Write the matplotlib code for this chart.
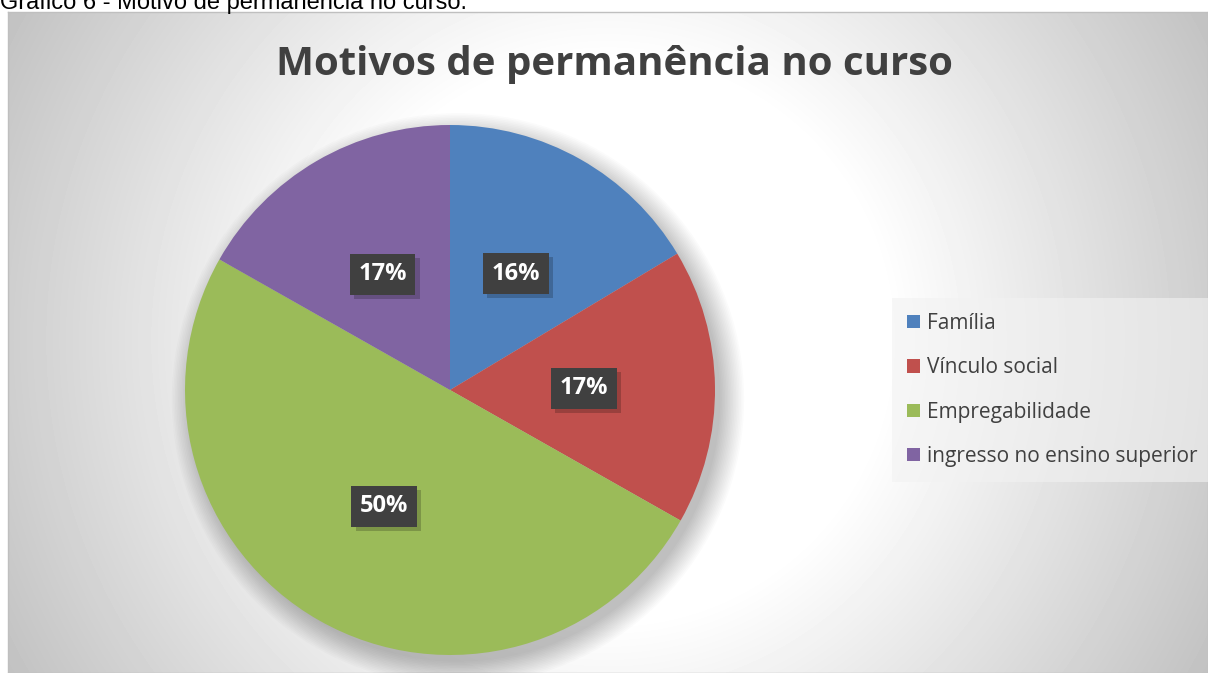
import numpy as np
import matplotlib
matplotlib.use("Agg")
import matplotlib.pyplot as plt
import matplotlib.patheffects as pe
from matplotlib.patches import Circle

# dados do gráfico
categorias = ["Família", "Vínculo social", "Empregabilidade", "ingresso no ensino superior"]
percentuais = [16.4, 16.8, 50.0, 16.8]
cores = ["#4f81bd", "#c0504d", "#9bbb59", "#8064a2"]
titulo = "Motivos de permanência no curso"
legenda_fig = "Gráfico 6 - Motivo de permanência no curso."

W, H = 1208, 673
fig = plt.figure(figsize=(W / 100, H / 100), dpi=100)
fig.patch.set_facecolor("white")

# fundo com gradiente radial (branco no centro, cinza nas bordas)
x0, y0 = 8, 12
bg = fig.add_axes([x0 / W, 0, (W - x0) / W, (H - y0) / H])
xx, yy = np.meshgrid(np.arange(x0, W), np.arange(y0, H))
r = np.hypot(xx - 608, yy - 340)
val = 1 - np.clip((r - 280) / 420, 0, 1.2) * 0.25
bg.imshow(val, cmap="gray", vmin=0, vmax=1, aspect="auto", interpolation="bilinear")
bg.set_xticks([])
bg.set_yticks([])
for s in bg.spines.values():
    s.set_color("#bfbfbf")
    s.set_linewidth(1)

# legenda do documento (cortada no topo)
fig.text(0, 1 - 9 / H, legenda_fig, fontsize=17, family="Liberation Sans",
         color="black", va="baseline", ha="left", zorder=0)

fig.text(614 / W, 1 - 64 / H, titulo, fontsize=29, fontweight="bold",
         family="Open Sans", color="#404040", ha="center", va="center")

# pizza
cx, cy, R = 450, 390, 265
ax = fig.add_axes([(cx - R) / W, (H - cy - R) / H, 2 * R / W, 2 * R / H])
ax.set_xlim(-1, 1)
ax.set_ylim(-1, 1)
ax.set_aspect("equal")
ax.axis("off")

# sombra suave (mais para baixo e à direita)
for k in range(16):
    ax.add_patch(Circle((0.03, -0.035), 0.99 + 0.006 * k, fc="black",
                        alpha=0.015, ec="none", zorder=0, clip_on=False))

wedges, texts, autotexts = ax.pie(
    percentuais, colors=cores, startangle=90, counterclock=False, radius=1,
    autopct="%.0f%%", pctdistance=0.505,
    wedgeprops=dict(linewidth=0, zorder=2),
    textprops=dict(color="white", fontsize=17, fontweight="bold", family="Open Sans"))
ax.set_xlim(-1, 1)
ax.set_ylim(-1, 1)

for t in autotexts:
    t.set_bbox(dict(boxstyle="square,pad=0.36", fc="#404040", ec="none"))
    t.get_bbox_patch().set_path_effects([
        pe.SimplePatchShadow(offset=(3, -3), shadow_rgbFace="black", alpha=0.2),
        pe.Normal()])
    t.set_zorder(5)

leg = fig.legend(wedges, categorias, loc="upper left",
                 bbox_to_anchor=(892 / W, 1 - 298 / H),
                 prop=dict(family="Open Sans", size=15),
                 frameon=True, fancybox=False, handlelength=0.6, handleheight=0.6,
                 handletextpad=0.35, labelspacing=1.12, borderpad=0.72, borderaxespad=0)
leg.get_frame().set_facecolor("#f2f2f2")
leg.get_frame().set_alpha(0.6)
leg.get_frame().set_edgecolor("none")
for t in leg.get_texts():
    t.set_color("#404040")

fig.savefig("out.png", dpi=100)
